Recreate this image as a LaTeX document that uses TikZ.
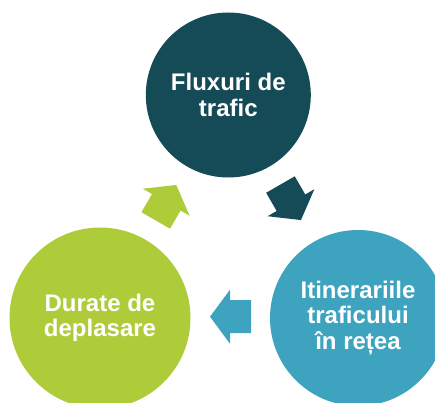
\documentclass[tikz,border=0pt]{standalone}
\usepackage{fontspec}
\setmainfont{Liberation Sans}
\definecolor{cTeal}{HTML}{154A57}
\definecolor{cBlue}{HTML}{3DA3BF}
\definecolor{cLime}{HTML}{AECC3A}
\tikzset{
  bubble/.style={circle, inner sep=0pt, text=white, align=center,
    font=\fontsize{24}{25.5}\selectfont\bfseries},
  pics/barrow/.style={code={
    \fill[#1] (-20.5,-16.5) -- (0.5,-16.5) -- (0.5,-27) -- (20.5,0)
      -- (0.5,27) -- (0.5,16.5) -- (-20.5,16.5) -- cycle;}}
}
\begin{document}
\begin{tikzpicture}[x=1pt,y=1pt]
\useasboundingbox (0,0) rectangle (435,402);
\clip (0,0) rectangle (435,402);
\node[bubble, fill=cTeal, minimum size=165pt] (flux) at (228.3,307) {Fluxuri de\\trafic};
\node[bubble, fill=cBlue, minimum size=176pt] (itin) at (358,84) {Itinerariile\\traficului\\în rețea};
\node[bubble, fill=cLime, minimum size=181pt] (dur) at (100,84) {Durate de\\deplasare};
\pic[rotate=-60] at (290.7,199.7) {barrow=cTeal};
\pic[rotate=180] at (230.5,85.3) {barrow=cBlue};
\pic[rotate=60] at (166,199.3) {barrow=cLime};
\end{tikzpicture}
\end{document}
